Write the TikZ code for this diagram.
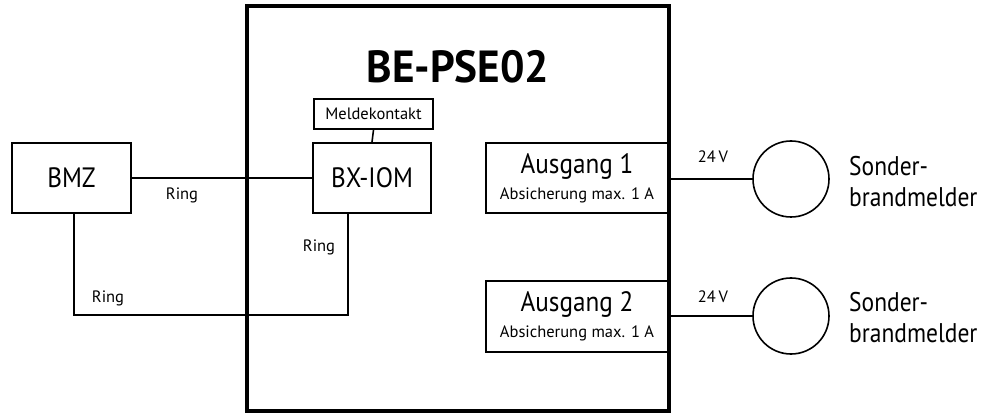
\documentclass[tikz,border=0pt]{standalone}
\usepackage{fontspec}
\setmainfont{PT Sans}
\newfontfamily\narrowfont[FakeStretch=0.9]{PT Sans}
\newfontfamily\sondfont[FakeStretch=0.87]{PT Sans}
\begin{document}
\begin{tikzpicture}[x=1pt,y=-1pt,
  box/.style={draw,line width=1.8pt,inner sep=0pt,align=center},
  wire/.style={line width=1.6pt},
  big/.style={font=\narrowfont\fontsize{28}{30}\selectfont},
  small/.style={font=\fontsize{16.5}{18}\selectfont},
  lbl/.style={inner sep=0pt,font=\fontsize{16.5}{18}\selectfont}]
\useasboundingbox (0,0) rectangle (997,414);
% main housing
\draw[line width=4pt] (247,6) rectangle (669,411);
\node[inner sep=0pt,font=\bfseries\fontsize{45}{46}\selectfont] (title) at (458,67) {\scalebox{0.96}[1]{BE-PSE02}};
% boxes
\node[box,big,minimum width=119pt,minimum height=70pt] (bmz) at (71.5,178) {BMZ};
\node[box,small,minimum width=119pt,minimum height=30pt] (mk) at (373.5,114) {Meldekontakt};
\node[box,big,minimum width=118pt,minimum height=70pt] (iom) at (372,178) {BX-IOM};
\node[box,minimum width=182pt,minimum height=70pt] (a1) at (577,178) {};
\node[box,minimum width=182pt,minimum height=71pt] (a2) at (577,316.5) {};
\node[inner sep=0pt,big] (a1t) at (577,167) {Ausgang 1};
\node[inner sep=0pt,font=\fontsize{16.5}{18}\selectfont] (a1s) at (577,195) {Absicherung max. 1 A};
\node[inner sep=0pt,big] (a2t) at (577,305) {Ausgang 2};
\node[inner sep=0pt,font=\fontsize{16.5}{18}\selectfont] (a2s) at (577,333) {Absicherung max. 1 A};
% detectors
\node[draw,circle,line width=1.6pt,minimum size=76pt,inner sep=0pt] (c1) at (791,179) {};
\node[draw,circle,line width=1.6pt,minimum size=76pt,inner sep=0pt] (c2) at (791,316) {};
\node[anchor=west,inner sep=0pt,align=left,font=\sondfont\fontsize{27}{31}\selectfont] (s1) at (849,182) {Sonder-\\brandmelder};
\node[anchor=west,inner sep=0pt,align=left,font=\sondfont\fontsize{27}{31}\selectfont] (s2) at (849,318) {Sonder-\\brandmelder};
% wiring
\coordinate (p1) at (74,315);
\coordinate (p2) at (348,315);
\draw[wire] (bmz.east) -- (iom.west);
\draw[wire] (bmz.south -| p1) -- (p1) -- (p2) -- (iom.south -| p2);
\draw[wire] (mk.south) -- (iom.north);
\draw[wire] (a1.east |- c1.west) -- (c1.west);
\draw[wire] (a2.east |- c2.west) -- (c2.west);
% labels
\node[lbl] (r1) at (182,195) {Ring};
\node[lbl] (r2) at (108,298) {Ring};
\node[lbl] (r3) at (319,247) {Ring};
\node[lbl] (v1) at (713,157) {24\,V};
\node[lbl] (v2) at (713,297) {24\,V};
\end{tikzpicture}
\end{document}
